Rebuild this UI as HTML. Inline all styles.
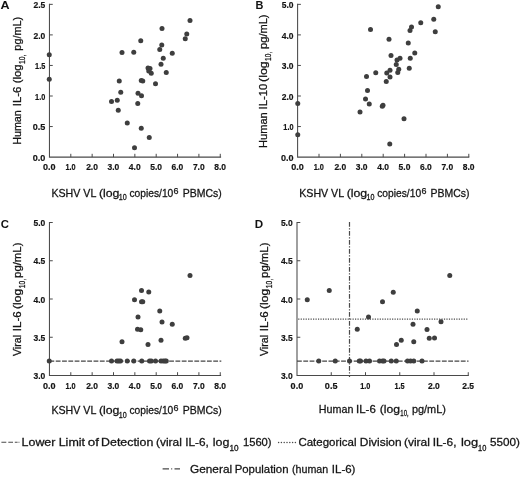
<!DOCTYPE html>
<html lang="en"><head><meta charset="utf-8"><title>Figure</title>
<style>
html,body{margin:0;padding:0;background:#fff;}
body{width:520px;height:477px;overflow:hidden;}
svg{display:block;font-family:"Liberation Sans", Arial, sans-serif;will-change:transform;opacity:0.999;}
</style></head><body>
<svg width="520" height="477" viewBox="0 0 520 477">
<rect width="520" height="477" fill="#fff"/>
<g id="panelA">
<path d="M49.45 3.85V157.1H221.1" fill="none" stroke="#4a4a4a" stroke-width="1.05" stroke-linejoin="miter"/>
<path d="M70.80 157.1v-3.3M92.15 157.1v-3.3M113.50 157.1v-3.3M134.85 157.1v-3.3M156.20 157.1v-3.3M177.55 157.1v-3.3M198.90 157.1v-3.3M220.25 157.1v-3.3M49.45 126.55h3.3M49.45 96.00h3.3M49.45 65.45h3.3M49.45 34.90h3.3M49.45 4.35h3.3" fill="none" stroke="#4a4a4a" stroke-width="1"/>
<circle cx="190.00" cy="20.50" r="2.5" fill="#3e3e3e"/>
<circle cx="162.00" cy="28.50" r="2.5" fill="#3e3e3e"/>
<circle cx="186.75" cy="34.00" r="2.5" fill="#3e3e3e"/>
<circle cx="185.25" cy="38.75" r="2.5" fill="#3e3e3e"/>
<circle cx="140.75" cy="40.75" r="2.5" fill="#3e3e3e"/>
<circle cx="161.75" cy="45.00" r="2.5" fill="#3e3e3e"/>
<circle cx="159.75" cy="49.50" r="2.5" fill="#3e3e3e"/>
<circle cx="122.00" cy="52.50" r="2.5" fill="#3e3e3e"/>
<circle cx="133.75" cy="52.25" r="2.5" fill="#3e3e3e"/>
<circle cx="172.25" cy="53.25" r="2.5" fill="#3e3e3e"/>
<circle cx="163.25" cy="58.25" r="2.5" fill="#3e3e3e"/>
<circle cx="161.00" cy="64.25" r="2.5" fill="#3e3e3e"/>
<circle cx="148.00" cy="68.00" r="2.5" fill="#3e3e3e"/>
<circle cx="150.00" cy="68.50" r="2.5" fill="#3e3e3e"/>
<circle cx="148.75" cy="71.00" r="2.5" fill="#3e3e3e"/>
<circle cx="151.25" cy="73.25" r="2.5" fill="#3e3e3e"/>
<circle cx="166.25" cy="72.50" r="2.5" fill="#3e3e3e"/>
<circle cx="119.25" cy="81.00" r="2.5" fill="#3e3e3e"/>
<circle cx="141.25" cy="80.50" r="2.5" fill="#3e3e3e"/>
<circle cx="142.75" cy="81.00" r="2.5" fill="#3e3e3e"/>
<circle cx="155.50" cy="83.75" r="2.5" fill="#3e3e3e"/>
<circle cx="120.75" cy="92.25" r="2.5" fill="#3e3e3e"/>
<circle cx="138.00" cy="93.25" r="2.5" fill="#3e3e3e"/>
<circle cx="141.50" cy="95.75" r="2.5" fill="#3e3e3e"/>
<circle cx="111.50" cy="101.50" r="2.5" fill="#3e3e3e"/>
<circle cx="117.25" cy="100.25" r="2.5" fill="#3e3e3e"/>
<circle cx="137.75" cy="103.50" r="2.5" fill="#3e3e3e"/>
<circle cx="118.25" cy="110.25" r="2.5" fill="#3e3e3e"/>
<circle cx="127.25" cy="123.00" r="2.5" fill="#3e3e3e"/>
<circle cx="141.25" cy="128.25" r="2.5" fill="#3e3e3e"/>
<circle cx="149.25" cy="137.50" r="2.5" fill="#3e3e3e"/>
<circle cx="134.50" cy="147.75" r="2.5" fill="#3e3e3e"/>
<circle cx="49.25" cy="54.75" r="2.5" fill="#3e3e3e"/>
<circle cx="49.25" cy="79.25" r="2.5" fill="#3e3e3e"/>
<text x="43.05" y="170.10" font-size="9.8" font-weight="bold" fill="#141414" stroke="#141414" stroke-width="0.2" textLength="12.60" lengthAdjust="spacingAndGlyphs">0.0</text>
<text x="65.50" y="170.10" font-size="9.8" font-weight="bold" fill="#141414" stroke="#141414" stroke-width="0.2" textLength="10.20" lengthAdjust="spacingAndGlyphs">1.0</text>
<text x="86.15" y="170.10" font-size="9.8" font-weight="bold" fill="#141414" stroke="#141414" stroke-width="0.2" textLength="11.80" lengthAdjust="spacingAndGlyphs">2.0</text>
<text x="107.50" y="170.10" font-size="9.8" font-weight="bold" fill="#141414" stroke="#141414" stroke-width="0.2" textLength="11.80" lengthAdjust="spacingAndGlyphs">3.0</text>
<text x="128.85" y="170.10" font-size="9.8" font-weight="bold" fill="#141414" stroke="#141414" stroke-width="0.2" textLength="11.80" lengthAdjust="spacingAndGlyphs">4.0</text>
<text x="150.20" y="170.10" font-size="9.8" font-weight="bold" fill="#141414" stroke="#141414" stroke-width="0.2" textLength="11.80" lengthAdjust="spacingAndGlyphs">5.0</text>
<text x="171.55" y="170.10" font-size="9.8" font-weight="bold" fill="#141414" stroke="#141414" stroke-width="0.2" textLength="11.80" lengthAdjust="spacingAndGlyphs">6.0</text>
<text x="192.90" y="170.10" font-size="9.8" font-weight="bold" fill="#141414" stroke="#141414" stroke-width="0.2" textLength="11.80" lengthAdjust="spacingAndGlyphs">7.0</text>
<text x="214.25" y="170.10" font-size="9.8" font-weight="bold" fill="#141414" stroke="#141414" stroke-width="0.2" textLength="11.80" lengthAdjust="spacingAndGlyphs">8.0</text>
<text x="32.70" y="160.70" font-size="9.8" font-weight="bold" fill="#141414" stroke="#141414" stroke-width="0.2" textLength="12.60" lengthAdjust="spacingAndGlyphs">0.0</text>
<text x="32.70" y="130.15" font-size="9.8" font-weight="bold" fill="#141414" stroke="#141414" stroke-width="0.2" textLength="12.60" lengthAdjust="spacingAndGlyphs">0.5</text>
<text x="35.10" y="99.60" font-size="9.8" font-weight="bold" fill="#141414" stroke="#141414" stroke-width="0.2" textLength="10.20" lengthAdjust="spacingAndGlyphs">1.0</text>
<text x="35.10" y="69.05" font-size="9.8" font-weight="bold" fill="#141414" stroke="#141414" stroke-width="0.2" textLength="10.20" lengthAdjust="spacingAndGlyphs">1.5</text>
<text x="33.50" y="38.50" font-size="9.8" font-weight="bold" fill="#141414" stroke="#141414" stroke-width="0.2" textLength="11.80" lengthAdjust="spacingAndGlyphs">2.0</text>
<text x="33.50" y="7.95" font-size="9.8" font-weight="bold" fill="#141414" stroke="#141414" stroke-width="0.2" textLength="11.80" lengthAdjust="spacingAndGlyphs">2.5</text>
</g>
<g id="panelB">
<path d="M297.6 3.85V157.1H469.29999999999995" fill="none" stroke="#4a4a4a" stroke-width="1.05" stroke-linejoin="miter"/>
<path d="M319.00 157.1v-3.3M340.40 157.1v-3.3M361.80 157.1v-3.3M383.20 157.1v-3.3M404.60 157.1v-3.3M426.00 157.1v-3.3M447.40 157.1v-3.3M468.80 157.1v-3.3M297.6 126.55h3.3M297.6 96.00h3.3M297.6 65.45h3.3M297.6 34.90h3.3M297.6 4.35h3.3" fill="none" stroke="#4a4a4a" stroke-width="1"/>
<circle cx="438.25" cy="6.75" r="2.5" fill="#3e3e3e"/>
<circle cx="433.75" cy="19.25" r="2.5" fill="#3e3e3e"/>
<circle cx="420.75" cy="22.75" r="2.5" fill="#3e3e3e"/>
<circle cx="411.50" cy="27.00" r="2.5" fill="#3e3e3e"/>
<circle cx="410.00" cy="30.50" r="2.5" fill="#3e3e3e"/>
<circle cx="435.25" cy="31.75" r="2.5" fill="#3e3e3e"/>
<circle cx="370.50" cy="29.50" r="2.5" fill="#3e3e3e"/>
<circle cx="389.00" cy="39.25" r="2.5" fill="#3e3e3e"/>
<circle cx="408.25" cy="43.00" r="2.5" fill="#3e3e3e"/>
<circle cx="414.75" cy="53.00" r="2.5" fill="#3e3e3e"/>
<circle cx="391.00" cy="55.50" r="2.5" fill="#3e3e3e"/>
<circle cx="400.00" cy="58.25" r="2.5" fill="#3e3e3e"/>
<circle cx="397.00" cy="60.00" r="2.5" fill="#3e3e3e"/>
<circle cx="410.25" cy="58.25" r="2.5" fill="#3e3e3e"/>
<circle cx="396.25" cy="64.50" r="2.5" fill="#3e3e3e"/>
<circle cx="409.25" cy="68.25" r="2.5" fill="#3e3e3e"/>
<circle cx="398.75" cy="69.25" r="2.5" fill="#3e3e3e"/>
<circle cx="390.00" cy="70.25" r="2.5" fill="#3e3e3e"/>
<circle cx="397.75" cy="72.50" r="2.5" fill="#3e3e3e"/>
<circle cx="386.75" cy="73.00" r="2.5" fill="#3e3e3e"/>
<circle cx="375.75" cy="72.75" r="2.5" fill="#3e3e3e"/>
<circle cx="390.00" cy="77.00" r="2.5" fill="#3e3e3e"/>
<circle cx="366.50" cy="76.50" r="2.5" fill="#3e3e3e"/>
<circle cx="386.25" cy="81.50" r="2.5" fill="#3e3e3e"/>
<circle cx="367.50" cy="90.50" r="2.5" fill="#3e3e3e"/>
<circle cx="365.50" cy="99.00" r="2.5" fill="#3e3e3e"/>
<circle cx="369.25" cy="104.00" r="2.5" fill="#3e3e3e"/>
<circle cx="383.00" cy="105.25" r="2.5" fill="#3e3e3e"/>
<circle cx="382.25" cy="106.25" r="2.5" fill="#3e3e3e"/>
<circle cx="360.00" cy="112.00" r="2.5" fill="#3e3e3e"/>
<circle cx="404.00" cy="118.75" r="2.5" fill="#3e3e3e"/>
<circle cx="389.75" cy="144.00" r="2.5" fill="#3e3e3e"/>
<circle cx="297.75" cy="103.50" r="2.5" fill="#3e3e3e"/>
<circle cx="297.75" cy="134.75" r="2.5" fill="#3e3e3e"/>
<text x="291.20" y="170.10" font-size="9.8" font-weight="bold" fill="#141414" stroke="#141414" stroke-width="0.2" textLength="12.60" lengthAdjust="spacingAndGlyphs">0.0</text>
<text x="313.70" y="170.10" font-size="9.8" font-weight="bold" fill="#141414" stroke="#141414" stroke-width="0.2" textLength="10.20" lengthAdjust="spacingAndGlyphs">1.0</text>
<text x="334.40" y="170.10" font-size="9.8" font-weight="bold" fill="#141414" stroke="#141414" stroke-width="0.2" textLength="11.80" lengthAdjust="spacingAndGlyphs">2.0</text>
<text x="355.80" y="170.10" font-size="9.8" font-weight="bold" fill="#141414" stroke="#141414" stroke-width="0.2" textLength="11.80" lengthAdjust="spacingAndGlyphs">3.0</text>
<text x="377.20" y="170.10" font-size="9.8" font-weight="bold" fill="#141414" stroke="#141414" stroke-width="0.2" textLength="11.80" lengthAdjust="spacingAndGlyphs">4.0</text>
<text x="398.60" y="170.10" font-size="9.8" font-weight="bold" fill="#141414" stroke="#141414" stroke-width="0.2" textLength="11.80" lengthAdjust="spacingAndGlyphs">5.0</text>
<text x="420.00" y="170.10" font-size="9.8" font-weight="bold" fill="#141414" stroke="#141414" stroke-width="0.2" textLength="11.80" lengthAdjust="spacingAndGlyphs">6.0</text>
<text x="441.40" y="170.10" font-size="9.8" font-weight="bold" fill="#141414" stroke="#141414" stroke-width="0.2" textLength="11.80" lengthAdjust="spacingAndGlyphs">7.0</text>
<text x="462.80" y="170.10" font-size="9.8" font-weight="bold" fill="#141414" stroke="#141414" stroke-width="0.2" textLength="11.80" lengthAdjust="spacingAndGlyphs">8.0</text>
<text x="280.90" y="160.70" font-size="9.8" font-weight="bold" fill="#141414" stroke="#141414" stroke-width="0.2" textLength="12.60" lengthAdjust="spacingAndGlyphs">0.0</text>
<text x="283.30" y="130.15" font-size="9.8" font-weight="bold" fill="#141414" stroke="#141414" stroke-width="0.2" textLength="10.20" lengthAdjust="spacingAndGlyphs">1.0</text>
<text x="281.70" y="99.60" font-size="9.8" font-weight="bold" fill="#141414" stroke="#141414" stroke-width="0.2" textLength="11.80" lengthAdjust="spacingAndGlyphs">2.0</text>
<text x="281.70" y="69.05" font-size="9.8" font-weight="bold" fill="#141414" stroke="#141414" stroke-width="0.2" textLength="11.80" lengthAdjust="spacingAndGlyphs">3.0</text>
<text x="281.70" y="38.50" font-size="9.8" font-weight="bold" fill="#141414" stroke="#141414" stroke-width="0.2" textLength="11.80" lengthAdjust="spacingAndGlyphs">4.0</text>
<text x="281.70" y="7.95" font-size="9.8" font-weight="bold" fill="#141414" stroke="#141414" stroke-width="0.2" textLength="11.80" lengthAdjust="spacingAndGlyphs">5.0</text>
</g>
<g id="panelC">
<path d="M49.45 222.1V375.5H221.1" fill="none" stroke="#4a4a4a" stroke-width="1.05" stroke-linejoin="miter"/>
<path d="M70.80 375.5v-3.3M92.15 375.5v-3.3M113.50 375.5v-3.3M134.85 375.5v-3.3M156.20 375.5v-3.3M177.55 375.5v-3.3M198.90 375.5v-3.3M220.25 375.5v-3.3M49.45 337.25h3.3M49.45 299.00h3.3M49.45 260.75h3.3M49.45 222.50h3.3" fill="none" stroke="#4a4a4a" stroke-width="1"/>
<path d="M49.45 361.15H221.3" stroke="#444" stroke-width="1.2" stroke-dasharray="4.8 1.5" fill="none"/>
<circle cx="190.00" cy="275.50" r="2.5" fill="#3e3e3e"/>
<circle cx="141.50" cy="290.50" r="2.5" fill="#3e3e3e"/>
<circle cx="148.75" cy="292.00" r="2.5" fill="#3e3e3e"/>
<circle cx="134.50" cy="299.75" r="2.5" fill="#3e3e3e"/>
<circle cx="141.50" cy="301.75" r="2.5" fill="#3e3e3e"/>
<circle cx="142.75" cy="301.75" r="2.5" fill="#3e3e3e"/>
<circle cx="159.75" cy="311.00" r="2.5" fill="#3e3e3e"/>
<circle cx="138.00" cy="317.00" r="2.5" fill="#3e3e3e"/>
<circle cx="162.00" cy="322.00" r="2.5" fill="#3e3e3e"/>
<circle cx="172.25" cy="324.25" r="2.5" fill="#3e3e3e"/>
<circle cx="137.50" cy="329.25" r="2.5" fill="#3e3e3e"/>
<circle cx="140.75" cy="329.75" r="2.5" fill="#3e3e3e"/>
<circle cx="185.25" cy="338.25" r="2.5" fill="#3e3e3e"/>
<circle cx="187.00" cy="337.75" r="2.5" fill="#3e3e3e"/>
<circle cx="161.00" cy="340.25" r="2.5" fill="#3e3e3e"/>
<circle cx="122.00" cy="341.75" r="2.5" fill="#3e3e3e"/>
<circle cx="148.00" cy="344.50" r="2.5" fill="#3e3e3e"/>
<circle cx="49.25" cy="360.90" r="2.5" fill="#3e3e3e"/>
<circle cx="111.50" cy="360.90" r="2.5" fill="#3e3e3e"/>
<circle cx="117.00" cy="360.90" r="2.5" fill="#3e3e3e"/>
<circle cx="118.75" cy="360.90" r="2.5" fill="#3e3e3e"/>
<circle cx="120.50" cy="360.90" r="2.5" fill="#3e3e3e"/>
<circle cx="127.25" cy="360.90" r="2.5" fill="#3e3e3e"/>
<circle cx="133.75" cy="360.90" r="2.5" fill="#3e3e3e"/>
<circle cx="141.75" cy="360.90" r="2.5" fill="#3e3e3e"/>
<circle cx="149.50" cy="360.90" r="2.5" fill="#3e3e3e"/>
<circle cx="151.25" cy="360.90" r="2.5" fill="#3e3e3e"/>
<circle cx="155.50" cy="360.90" r="2.5" fill="#3e3e3e"/>
<circle cx="161.00" cy="360.90" r="2.5" fill="#3e3e3e"/>
<circle cx="163.25" cy="360.90" r="2.5" fill="#3e3e3e"/>
<circle cx="165.00" cy="360.90" r="2.5" fill="#3e3e3e"/>
<circle cx="166.25" cy="360.90" r="2.5" fill="#3e3e3e"/>
<text x="43.05" y="388.60" font-size="9.8" font-weight="bold" fill="#141414" stroke="#141414" stroke-width="0.2" textLength="12.60" lengthAdjust="spacingAndGlyphs">0.0</text>
<text x="65.50" y="388.60" font-size="9.8" font-weight="bold" fill="#141414" stroke="#141414" stroke-width="0.2" textLength="10.20" lengthAdjust="spacingAndGlyphs">1.0</text>
<text x="86.15" y="388.60" font-size="9.8" font-weight="bold" fill="#141414" stroke="#141414" stroke-width="0.2" textLength="11.80" lengthAdjust="spacingAndGlyphs">2.0</text>
<text x="107.50" y="388.60" font-size="9.8" font-weight="bold" fill="#141414" stroke="#141414" stroke-width="0.2" textLength="11.80" lengthAdjust="spacingAndGlyphs">3.0</text>
<text x="128.85" y="388.60" font-size="9.8" font-weight="bold" fill="#141414" stroke="#141414" stroke-width="0.2" textLength="11.80" lengthAdjust="spacingAndGlyphs">4.0</text>
<text x="150.20" y="388.60" font-size="9.8" font-weight="bold" fill="#141414" stroke="#141414" stroke-width="0.2" textLength="11.80" lengthAdjust="spacingAndGlyphs">5.0</text>
<text x="171.55" y="388.60" font-size="9.8" font-weight="bold" fill="#141414" stroke="#141414" stroke-width="0.2" textLength="11.80" lengthAdjust="spacingAndGlyphs">6.0</text>
<text x="192.90" y="388.60" font-size="9.8" font-weight="bold" fill="#141414" stroke="#141414" stroke-width="0.2" textLength="11.80" lengthAdjust="spacingAndGlyphs">7.0</text>
<text x="214.25" y="388.60" font-size="9.8" font-weight="bold" fill="#141414" stroke="#141414" stroke-width="0.2" textLength="11.80" lengthAdjust="spacingAndGlyphs">8.0</text>
<text x="33.50" y="379.10" font-size="9.8" font-weight="bold" fill="#141414" stroke="#141414" stroke-width="0.2" textLength="11.80" lengthAdjust="spacingAndGlyphs">3.0</text>
<text x="33.50" y="340.85" font-size="9.8" font-weight="bold" fill="#141414" stroke="#141414" stroke-width="0.2" textLength="11.80" lengthAdjust="spacingAndGlyphs">3.5</text>
<text x="33.50" y="302.60" font-size="9.8" font-weight="bold" fill="#141414" stroke="#141414" stroke-width="0.2" textLength="11.80" lengthAdjust="spacingAndGlyphs">4.0</text>
<text x="33.50" y="264.35" font-size="9.8" font-weight="bold" fill="#141414" stroke="#141414" stroke-width="0.2" textLength="11.80" lengthAdjust="spacingAndGlyphs">4.5</text>
<text x="33.50" y="226.10" font-size="9.8" font-weight="bold" fill="#141414" stroke="#141414" stroke-width="0.2" textLength="11.80" lengthAdjust="spacingAndGlyphs">5.0</text>
</g>
<g id="panelD">
<path d="M297.0 222.1V375.5H468.79999999999995" fill="none" stroke="#4a4a4a" stroke-width="1.05" stroke-linejoin="miter"/>
<path d="M331.25 375.5v-3.3M365.50 375.5v-3.3M399.75 375.5v-3.3M434.00 375.5v-3.3M468.25 375.5v-3.3M297.0 337.25h3.3M297.0 299.00h3.3M297.0 260.75h3.3M297.0 222.50h3.3" fill="none" stroke="#4a4a4a" stroke-width="1"/>
<path d="M297.0 361.15H468.5" stroke="#444" stroke-width="1.2" stroke-dasharray="4.8 1.5" fill="none"/>
<path d="M298.2 319.2H468.5" stroke="#4a4a4a" stroke-width="1.2" stroke-dasharray="1.2 1.27" fill="none"/>
<path d="M349.5 221.9V377" stroke="#4a4a4a" stroke-width="1.2" stroke-dasharray="4.9 1.4 1.2 1.5" fill="none"/>
<circle cx="307.25" cy="299.75" r="2.5" fill="#3e3e3e"/>
<circle cx="329.25" cy="290.50" r="2.5" fill="#3e3e3e"/>
<circle cx="393.25" cy="292.25" r="2.5" fill="#3e3e3e"/>
<circle cx="382.50" cy="301.75" r="2.5" fill="#3e3e3e"/>
<circle cx="417.25" cy="311.00" r="2.5" fill="#3e3e3e"/>
<circle cx="368.50" cy="317.00" r="2.5" fill="#3e3e3e"/>
<circle cx="357.25" cy="329.25" r="2.5" fill="#3e3e3e"/>
<circle cx="413.00" cy="324.25" r="2.5" fill="#3e3e3e"/>
<circle cx="401.25" cy="340.25" r="2.5" fill="#3e3e3e"/>
<circle cx="396.50" cy="344.50" r="2.5" fill="#3e3e3e"/>
<circle cx="413.75" cy="341.75" r="2.5" fill="#3e3e3e"/>
<circle cx="449.75" cy="275.50" r="2.5" fill="#3e3e3e"/>
<circle cx="441.00" cy="321.75" r="2.5" fill="#3e3e3e"/>
<circle cx="427.00" cy="329.50" r="2.5" fill="#3e3e3e"/>
<circle cx="429.25" cy="338.25" r="2.5" fill="#3e3e3e"/>
<circle cx="434.50" cy="338.00" r="2.5" fill="#3e3e3e"/>
<circle cx="318.75" cy="360.90" r="2.5" fill="#3e3e3e"/>
<circle cx="335.25" cy="360.90" r="2.5" fill="#3e3e3e"/>
<circle cx="349.50" cy="360.90" r="2.5" fill="#3e3e3e"/>
<circle cx="359.25" cy="360.90" r="2.5" fill="#3e3e3e"/>
<circle cx="360.50" cy="360.90" r="2.5" fill="#3e3e3e"/>
<circle cx="366.00" cy="360.90" r="2.5" fill="#3e3e3e"/>
<circle cx="369.50" cy="360.90" r="2.5" fill="#3e3e3e"/>
<circle cx="379.50" cy="360.90" r="2.5" fill="#3e3e3e"/>
<circle cx="382.50" cy="360.90" r="2.5" fill="#3e3e3e"/>
<circle cx="384.00" cy="360.90" r="2.5" fill="#3e3e3e"/>
<circle cx="391.25" cy="360.90" r="2.5" fill="#3e3e3e"/>
<circle cx="396.25" cy="360.90" r="2.5" fill="#3e3e3e"/>
<circle cx="407.50" cy="360.90" r="2.5" fill="#3e3e3e"/>
<circle cx="410.50" cy="360.90" r="2.5" fill="#3e3e3e"/>
<circle cx="413.75" cy="360.90" r="2.5" fill="#3e3e3e"/>
<circle cx="422.00" cy="360.90" r="2.5" fill="#3e3e3e"/>
<text x="290.60" y="388.60" font-size="9.8" font-weight="bold" fill="#141414" stroke="#141414" stroke-width="0.2" textLength="12.60" lengthAdjust="spacingAndGlyphs">0.0</text>
<text x="324.85" y="388.60" font-size="9.8" font-weight="bold" fill="#141414" stroke="#141414" stroke-width="0.2" textLength="12.60" lengthAdjust="spacingAndGlyphs">0.5</text>
<text x="360.20" y="388.60" font-size="9.8" font-weight="bold" fill="#141414" stroke="#141414" stroke-width="0.2" textLength="10.20" lengthAdjust="spacingAndGlyphs">1.0</text>
<text x="394.45" y="388.60" font-size="9.8" font-weight="bold" fill="#141414" stroke="#141414" stroke-width="0.2" textLength="10.20" lengthAdjust="spacingAndGlyphs">1.5</text>
<text x="428.00" y="388.60" font-size="9.8" font-weight="bold" fill="#141414" stroke="#141414" stroke-width="0.2" textLength="11.80" lengthAdjust="spacingAndGlyphs">2.0</text>
<text x="462.25" y="388.60" font-size="9.8" font-weight="bold" fill="#141414" stroke="#141414" stroke-width="0.2" textLength="11.80" lengthAdjust="spacingAndGlyphs">2.5</text>
<text x="280.90" y="379.10" font-size="9.8" font-weight="bold" fill="#141414" stroke="#141414" stroke-width="0.2" textLength="11.80" lengthAdjust="spacingAndGlyphs">3.0</text>
<text x="280.90" y="340.85" font-size="9.8" font-weight="bold" fill="#141414" stroke="#141414" stroke-width="0.2" textLength="11.80" lengthAdjust="spacingAndGlyphs">3.5</text>
<text x="280.90" y="302.60" font-size="9.8" font-weight="bold" fill="#141414" stroke="#141414" stroke-width="0.2" textLength="11.80" lengthAdjust="spacingAndGlyphs">4.0</text>
<text x="280.90" y="264.35" font-size="9.8" font-weight="bold" fill="#141414" stroke="#141414" stroke-width="0.2" textLength="11.80" lengthAdjust="spacingAndGlyphs">4.5</text>
<text x="280.90" y="226.10" font-size="9.8" font-weight="bold" fill="#141414" stroke="#141414" stroke-width="0.2" textLength="11.80" lengthAdjust="spacingAndGlyphs">5.0</text>
</g>
<text x="0.50" y="8.90" font-size="11.5" font-weight="bold" fill="#111" textLength="9.10" lengthAdjust="spacingAndGlyphs">A</text>
<text x="255.60" y="9.35" font-size="11.3" font-weight="bold" fill="#111" textLength="7.90" lengthAdjust="spacingAndGlyphs">B</text>
<text x="0.70" y="227.90" font-size="11.3" font-weight="bold" fill="#111" textLength="8.20" lengthAdjust="spacingAndGlyphs">C</text>
<text x="254.70" y="227.90" font-size="11.3" font-weight="bold" fill="#111" textLength="8.40" lengthAdjust="spacingAndGlyphs">D</text>
<text x="51.40" y="196.50" font-size="11.5" font-weight="normal" fill="#141414" stroke="#141414" stroke-width="0.28" textLength="44.95" lengthAdjust="spacingAndGlyphs">KSHV VL</text>
<text x="98.90" y="196.50" font-size="11.5" font-weight="normal" fill="#141414" stroke="#141414" stroke-width="0.28" textLength="20.50" lengthAdjust="spacingAndGlyphs">(log</text>
<text x="118.70" y="200.30" font-size="8.5" font-weight="normal" fill="#141414" stroke="#141414" stroke-width="0.3" textLength="7.90" lengthAdjust="spacingAndGlyphs">10</text>
<text x="129.40" y="196.50" font-size="11.5" font-weight="normal" fill="#141414" stroke="#141414" stroke-width="0.28" textLength="43.90" lengthAdjust="spacingAndGlyphs">copies/10</text>
<text x="173.60" y="193.50" font-size="8.8" font-weight="normal" fill="#141414" stroke="#141414" stroke-width="0.25" textLength="5.00" lengthAdjust="spacingAndGlyphs">6</text>
<text x="182.70" y="196.50" font-size="11.5" font-weight="normal" fill="#141414" stroke="#141414" stroke-width="0.28" textLength="39.00" lengthAdjust="spacingAndGlyphs">PBMCs)</text>
<text x="299.20" y="196.50" font-size="11.5" font-weight="normal" fill="#141414" stroke="#141414" stroke-width="0.28" textLength="44.95" lengthAdjust="spacingAndGlyphs">KSHV VL</text>
<text x="346.70" y="196.50" font-size="11.5" font-weight="normal" fill="#141414" stroke="#141414" stroke-width="0.28" textLength="20.50" lengthAdjust="spacingAndGlyphs">(log</text>
<text x="366.50" y="200.30" font-size="8.5" font-weight="normal" fill="#141414" stroke="#141414" stroke-width="0.3" textLength="7.90" lengthAdjust="spacingAndGlyphs">10</text>
<text x="377.20" y="196.50" font-size="11.5" font-weight="normal" fill="#141414" stroke="#141414" stroke-width="0.28" textLength="43.90" lengthAdjust="spacingAndGlyphs">copies/10</text>
<text x="421.40" y="193.50" font-size="8.8" font-weight="normal" fill="#141414" stroke="#141414" stroke-width="0.25" textLength="5.00" lengthAdjust="spacingAndGlyphs">6</text>
<text x="430.50" y="196.50" font-size="11.5" font-weight="normal" fill="#141414" stroke="#141414" stroke-width="0.28" textLength="39.00" lengthAdjust="spacingAndGlyphs">PBMCs)</text>
<text x="51.40" y="414.40" font-size="11.5" font-weight="normal" fill="#141414" stroke="#141414" stroke-width="0.28" textLength="44.95" lengthAdjust="spacingAndGlyphs">KSHV VL</text>
<text x="98.90" y="414.40" font-size="11.5" font-weight="normal" fill="#141414" stroke="#141414" stroke-width="0.28" textLength="20.50" lengthAdjust="spacingAndGlyphs">(log</text>
<text x="118.70" y="418.20" font-size="8.5" font-weight="normal" fill="#141414" stroke="#141414" stroke-width="0.3" textLength="7.90" lengthAdjust="spacingAndGlyphs">10</text>
<text x="129.40" y="414.40" font-size="11.5" font-weight="normal" fill="#141414" stroke="#141414" stroke-width="0.28" textLength="43.90" lengthAdjust="spacingAndGlyphs">copies/10</text>
<text x="173.60" y="411.40" font-size="8.8" font-weight="normal" fill="#141414" stroke="#141414" stroke-width="0.25" textLength="5.00" lengthAdjust="spacingAndGlyphs">6</text>
<text x="182.70" y="414.40" font-size="11.5" font-weight="normal" fill="#141414" stroke="#141414" stroke-width="0.28" textLength="39.00" lengthAdjust="spacingAndGlyphs">PBMCs)</text>
<text x="318.80" y="412.60" font-size="11.5" font-weight="normal" fill="#141414" stroke="#141414" stroke-width="0.28" textLength="34.55" lengthAdjust="spacingAndGlyphs">Human</text>
<text x="356.05" y="412.60" font-size="11.5" font-weight="normal" fill="#141414" stroke="#141414" stroke-width="0.28" textLength="19.75" lengthAdjust="spacingAndGlyphs">IL-6</text>
<text x="379.80" y="412.60" font-size="11.5" font-weight="normal" fill="#141414" stroke="#141414" stroke-width="0.28" textLength="20.25" lengthAdjust="spacingAndGlyphs">(log</text>
<text x="400.30" y="416.40" font-size="8.5" font-weight="normal" fill="#141414" stroke="#141414" stroke-width="0.3" textLength="6.70" lengthAdjust="spacingAndGlyphs">10</text>
<text x="406.90" y="416.40" font-size="8.5" font-weight="normal" fill="#141414" stroke="#141414" stroke-width="0.3" textLength="1.60" lengthAdjust="spacingAndGlyphs">,</text>
<text x="411.90" y="412.60" font-size="11.5" font-weight="normal" fill="#141414" stroke="#141414" stroke-width="0.28" textLength="34.00" lengthAdjust="spacingAndGlyphs">pg/mL)</text>
<g transform="translate(20.8 0) rotate(-90)">
<text x="-144.80" y="0.00" font-size="11.8" font-weight="normal" fill="#141414" stroke="#141414" stroke-width="0.28" textLength="34.60" lengthAdjust="spacingAndGlyphs">Human</text>
<text x="-106.30" y="0.00" font-size="11.8" font-weight="normal" fill="#141414" stroke="#141414" stroke-width="0.28" textLength="19.70" lengthAdjust="spacingAndGlyphs">IL-6</text>
<text x="-83.30" y="0.00" font-size="11.8" font-weight="normal" fill="#141414" stroke="#141414" stroke-width="0.28" textLength="18.90" lengthAdjust="spacingAndGlyphs">(log</text>
<text x="-63.90" y="3.80" font-size="8.5" font-weight="normal" fill="#141414" stroke="#141414" stroke-width="0.3" textLength="7.50" lengthAdjust="spacingAndGlyphs">10</text>
<text x="-56.20" y="3.80" font-size="8.5" font-weight="normal" fill="#141414" stroke="#141414" stroke-width="0.3" textLength="1.60" lengthAdjust="spacingAndGlyphs">,</text>
<text x="-50.65" y="0.00" font-size="11.8" font-weight="normal" fill="#141414" stroke="#141414" stroke-width="0.28" textLength="33.85" lengthAdjust="spacingAndGlyphs">pg/mL)</text>
</g>
<g transform="translate(267.3 0) rotate(-90)">
<text x="-148.00" y="0.00" font-size="11.8" font-weight="normal" fill="#141414" stroke="#141414" stroke-width="0.28" textLength="35.80" lengthAdjust="spacingAndGlyphs">Human</text>
<text x="-109.50" y="0.00" font-size="11.8" font-weight="normal" fill="#141414" stroke="#141414" stroke-width="0.28" textLength="25.80" lengthAdjust="spacingAndGlyphs">IL-10</text>
<text x="-82.00" y="0.00" font-size="11.8" font-weight="normal" fill="#141414" stroke="#141414" stroke-width="0.28" textLength="20.80" lengthAdjust="spacingAndGlyphs">(log</text>
<text x="-60.90" y="3.80" font-size="8.5" font-weight="normal" fill="#141414" stroke="#141414" stroke-width="0.3" textLength="7.30" lengthAdjust="spacingAndGlyphs">10</text>
<text x="-53.50" y="3.80" font-size="8.5" font-weight="normal" fill="#141414" stroke="#141414" stroke-width="0.3" textLength="1.50" lengthAdjust="spacingAndGlyphs">,</text>
<text x="-48.90" y="0.00" font-size="11.8" font-weight="normal" fill="#141414" stroke="#141414" stroke-width="0.28" textLength="34.40" lengthAdjust="spacingAndGlyphs">pg/mL)</text>
</g>
<g transform="translate(20.8 0) rotate(-90)">
<text x="-356.00" y="0.00" font-size="11.8" font-weight="normal" fill="#141414" stroke="#141414" stroke-width="0.28" textLength="21.00" lengthAdjust="spacingAndGlyphs">Viral</text>
<text x="-331.20" y="0.00" font-size="11.8" font-weight="normal" fill="#141414" stroke="#141414" stroke-width="0.28" textLength="19.80" lengthAdjust="spacingAndGlyphs">IL-6</text>
<text x="-308.90" y="0.00" font-size="11.8" font-weight="normal" fill="#141414" stroke="#141414" stroke-width="0.28" textLength="20.10" lengthAdjust="spacingAndGlyphs">(log</text>
<text x="-288.20" y="3.80" font-size="8.5" font-weight="normal" fill="#141414" stroke="#141414" stroke-width="0.3" textLength="7.40" lengthAdjust="spacingAndGlyphs">10</text>
<text x="-280.60" y="3.80" font-size="8.5" font-weight="normal" fill="#141414" stroke="#141414" stroke-width="0.3" textLength="1.50" lengthAdjust="spacingAndGlyphs">,</text>
<text x="-277.90" y="0.00" font-size="11.8" font-weight="normal" fill="#141414" stroke="#141414" stroke-width="0.28" textLength="35.30" lengthAdjust="spacingAndGlyphs">pg/mL)</text>
</g>
<g transform="translate(268.4 0) rotate(-90)">
<text x="-356.00" y="0.00" font-size="11.8" font-weight="normal" fill="#141414" stroke="#141414" stroke-width="0.28" textLength="21.00" lengthAdjust="spacingAndGlyphs">Viral</text>
<text x="-331.20" y="0.00" font-size="11.8" font-weight="normal" fill="#141414" stroke="#141414" stroke-width="0.28" textLength="19.80" lengthAdjust="spacingAndGlyphs">IL-6</text>
<text x="-308.90" y="0.00" font-size="11.8" font-weight="normal" fill="#141414" stroke="#141414" stroke-width="0.28" textLength="20.10" lengthAdjust="spacingAndGlyphs">(log</text>
<text x="-288.20" y="3.80" font-size="8.5" font-weight="normal" fill="#141414" stroke="#141414" stroke-width="0.3" textLength="7.40" lengthAdjust="spacingAndGlyphs">10</text>
<text x="-280.60" y="3.80" font-size="8.5" font-weight="normal" fill="#141414" stroke="#141414" stroke-width="0.3" textLength="1.50" lengthAdjust="spacingAndGlyphs">,</text>
<text x="-277.90" y="0.00" font-size="11.8" font-weight="normal" fill="#141414" stroke="#141414" stroke-width="0.28" textLength="35.30" lengthAdjust="spacingAndGlyphs">pg/mL)</text>
</g>
<path d="M1.4 442.3h4.9M8.3 442.3h4.7M14.8 442.3h2.8M18.5 442.3h0.9" stroke="#4a4a4a" stroke-width="1.1" fill="none"/>
<text x="21.60" y="446.30" font-size="11.5" font-weight="normal" fill="#141414" stroke="#141414" stroke-width="0.28" textLength="33.80" lengthAdjust="spacingAndGlyphs">Lower</text>
<text x="58.70" y="446.30" font-size="11.5" font-weight="normal" fill="#141414" stroke="#141414" stroke-width="0.28" textLength="26.30" lengthAdjust="spacingAndGlyphs">Limit</text>
<text x="87.70" y="446.30" font-size="11.5" font-weight="normal" fill="#141414" stroke="#141414" stroke-width="0.28" textLength="11.20" lengthAdjust="spacingAndGlyphs">of</text>
<text x="101.10" y="446.30" font-size="11.5" font-weight="normal" fill="#141414" stroke="#141414" stroke-width="0.28" textLength="52.30" lengthAdjust="spacingAndGlyphs">Detection</text>
<text x="155.95" y="446.30" font-size="11.5" font-weight="normal" fill="#141414" stroke="#141414" stroke-width="0.28" textLength="25.95" lengthAdjust="spacingAndGlyphs">(viral</text>
<text x="185.15" y="446.30" font-size="11.5" font-weight="normal" fill="#141414" stroke="#141414" stroke-width="0.28" textLength="23.65" lengthAdjust="spacingAndGlyphs">IL-6,</text>
<text x="212.75" y="446.30" font-size="11.5" font-weight="normal" fill="#141414" stroke="#141414" stroke-width="0.28" textLength="16.65" lengthAdjust="spacingAndGlyphs">log</text>
<text x="229.40" y="450.90" font-size="8.6" font-weight="normal" fill="#141414" stroke="#141414" stroke-width="0.3" textLength="9.10" lengthAdjust="spacingAndGlyphs">10</text>
<text x="242.95" y="446.30" font-size="11.5" font-weight="normal" fill="#141414" stroke="#141414" stroke-width="0.28" textLength="28.65" lengthAdjust="spacingAndGlyphs">1560)</text>
<path d="M278.6 442.6H296" stroke="#4a4a4a" stroke-width="1.5" stroke-linecap="round" stroke-dasharray="0 2.8" fill="none"/>
<text x="298.45" y="446.30" font-size="11.5" font-weight="normal" fill="#141414" stroke="#141414" stroke-width="0.28" textLength="58.05" lengthAdjust="spacingAndGlyphs">Categorical</text>
<text x="359.80" y="446.30" font-size="11.5" font-weight="normal" fill="#141414" stroke="#141414" stroke-width="0.28" textLength="41.75" lengthAdjust="spacingAndGlyphs">Division</text>
<text x="403.90" y="446.30" font-size="11.5" font-weight="normal" fill="#141414" stroke="#141414" stroke-width="0.28" textLength="26.00" lengthAdjust="spacingAndGlyphs">(viral</text>
<text x="432.65" y="446.30" font-size="11.5" font-weight="normal" fill="#141414" stroke="#141414" stroke-width="0.28" textLength="23.85" lengthAdjust="spacingAndGlyphs">IL-6,</text>
<text x="460.90" y="446.30" font-size="11.5" font-weight="normal" fill="#141414" stroke="#141414" stroke-width="0.28" textLength="17.20" lengthAdjust="spacingAndGlyphs">log</text>
<text x="478.10" y="450.90" font-size="8.6" font-weight="normal" fill="#141414" stroke="#141414" stroke-width="0.3" textLength="8.30" lengthAdjust="spacingAndGlyphs">10</text>
<text x="489.95" y="446.30" font-size="11.5" font-weight="normal" fill="#141414" stroke="#141414" stroke-width="0.28" textLength="29.95" lengthAdjust="spacingAndGlyphs">5500)</text>
<path d="M162.6 468.9H180" stroke="#4a4a4a" stroke-width="1.1" stroke-dasharray="6.4 2.2 1 2.3" fill="none"/>
<text x="190.00" y="473.30" font-size="11.5" font-weight="normal" fill="#141414" stroke="#141414" stroke-width="0.28" textLength="42.10" lengthAdjust="spacingAndGlyphs">General</text>
<text x="234.70" y="473.30" font-size="11.5" font-weight="normal" fill="#141414" stroke="#141414" stroke-width="0.28" textLength="53.80" lengthAdjust="spacingAndGlyphs">Population</text>
<text x="292.00" y="473.30" font-size="11.5" font-weight="normal" fill="#141414" stroke="#141414" stroke-width="0.28" textLength="36.20" lengthAdjust="spacingAndGlyphs">(human</text>
<text x="331.80" y="473.30" font-size="11.5" font-weight="normal" fill="#141414" stroke="#141414" stroke-width="0.28" textLength="23.65" lengthAdjust="spacingAndGlyphs">IL-6)</text>
</svg>
</body></html>
